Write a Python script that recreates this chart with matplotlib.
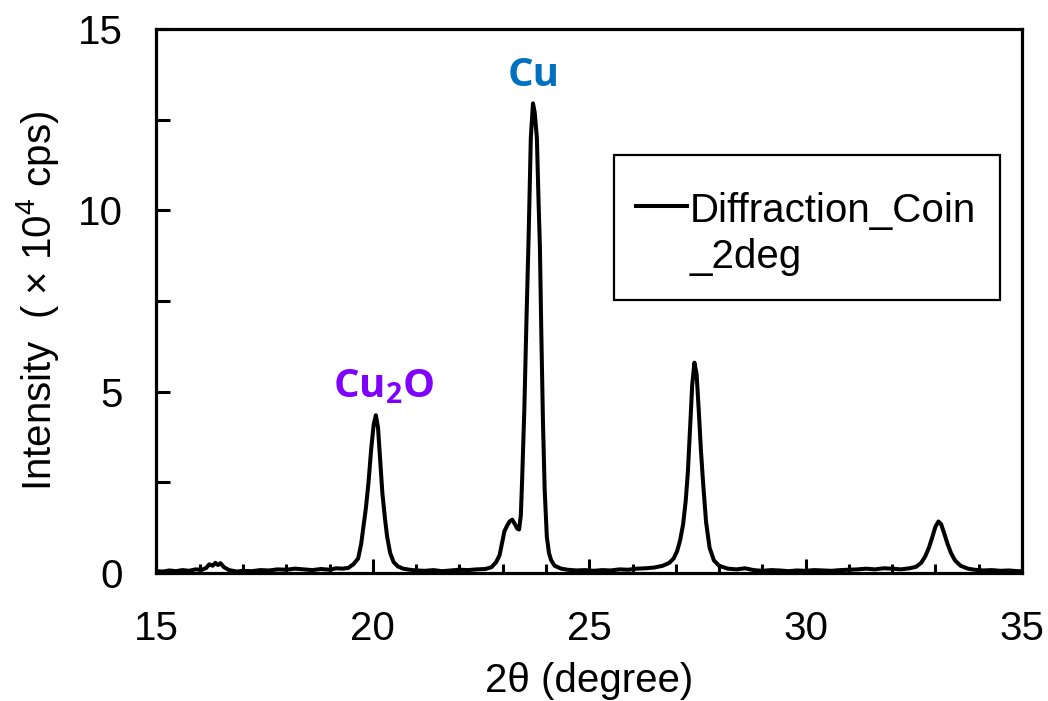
import numpy as np
import matplotlib
matplotlib.use("Agg")
import matplotlib.pyplot as plt
from matplotlib.ticker import MultipleLocator
from matplotlib.patches import Rectangle

# --- Data --------------------------------------------------------------------
two_theta = [
    15.0, 15.15, 15.3, 15.45, 15.6, 15.75, 15.9, 16.05, 16.15, 16.22, 16.3, 16.36,
    16.42, 16.48, 16.56, 16.68, 16.85, 17.0, 17.2, 17.4, 17.6, 17.8, 18.0, 18.2,
    18.4, 18.6, 18.8, 19.0, 19.15, 19.3, 19.43, 19.55, 19.66, 19.73, 19.78, 19.84,
    19.9, 19.96, 20.02, 20.07, 20.12, 20.17, 20.22, 20.28, 20.33, 20.4, 20.48,
    20.58, 20.7, 20.85, 21.0, 21.2, 21.4, 21.6, 21.8, 22.0, 22.2, 22.4, 22.6,
    22.74, 22.85, 22.93, 22.98, 23.04, 23.1, 23.16, 23.22, 23.28, 23.34, 23.38,
    23.42, 23.45, 23.5, 23.55, 23.6, 23.65, 23.7, 23.74, 23.79, 23.83, 23.86,
    23.89, 23.93, 23.97, 24.02, 24.07, 24.12, 24.2, 24.35, 24.5, 24.7, 24.9, 25.1,
    25.3, 25.5, 25.7, 25.9, 26.1, 26.3, 26.5, 26.7, 26.85, 26.95, 27.03, 27.1,
    27.17, 27.23, 27.28, 27.33, 27.38, 27.43, 27.48, 27.53, 27.58, 27.63, 27.7,
    27.78, 27.88, 28.0, 28.2, 28.4, 28.6, 28.8, 29.0, 29.2, 29.4, 29.6, 29.8,
    30.0, 30.2, 30.4, 30.6, 30.8, 31.0, 31.2, 31.4, 31.6, 31.8, 32.0, 32.2, 32.4,
    32.55, 32.67, 32.76, 32.85, 32.93, 33.0, 33.07, 33.13, 33.2, 33.28, 33.36,
    33.45, 33.58, 33.75, 33.9, 34.1, 34.3, 34.5, 34.7, 34.9, 35.0,
]
intensity = [
    0.05, 0.04, 0.07, 0.05, 0.08, 0.06, 0.1, 0.09, 0.14, 0.24, 0.2, 0.28,
    0.22, 0.27, 0.16, 0.08, 0.04, 0.06, 0.05, 0.08, 0.07, 0.1, 0.09, 0.12,
    0.1, 0.08, 0.11, 0.09, 0.13, 0.12, 0.14, 0.24, 0.4, 0.8, 1.25, 1.8,
    2.5, 3.4, 4.1, 4.35, 4.0, 3.1, 2.2, 1.5, 1.0, 0.55, 0.3,
    0.18, 0.12, 0.09, 0.07, 0.06, 0.08, 0.05, 0.07, 0.09, 0.08, 0.1, 0.11,
    0.16, 0.3, 0.5, 0.8, 1.15, 1.3, 1.42, 1.47, 1.35, 1.22, 1.2,
    1.6, 2.6, 4.5, 7.0, 9.3, 12.0, 12.95, 12.7, 12.0, 10.2, 9.0,
    6.8, 4.2, 2.3, 1.0, 0.55, 0.35, 0.2, 0.12, 0.09, 0.07, 0.08, 0.06,
    0.08, 0.07, 0.1, 0.09, 0.12, 0.13, 0.15, 0.2, 0.28, 0.4, 0.6, 0.9,
    1.35, 2.0, 2.8, 4.0, 5.2, 5.8, 5.5, 4.5, 3.4, 2.5, 1.4,
    0.7, 0.35, 0.2, 0.12, 0.1, 0.13, 0.08, 0.06, 0.08, 0.07, 0.05, 0.07,
    0.06, 0.08, 0.07, 0.06, 0.08, 0.09, 0.1, 0.12, 0.1, 0.13, 0.12, 0.1, 0.13,
    0.17, 0.28, 0.45, 0.7, 1.0, 1.28, 1.42, 1.35, 1.1, 0.8, 0.55,
    0.35, 0.2, 0.12, 0.09, 0.07, 0.08, 0.06, 0.07, 0.05, 0.05,
]
series_name = ["Diffraction_Coin", "_2deg"]
peak_labels = [r"Cu", r"Cu$_\mathbf{2}$O"]
peak_x = [23.72, 20.25]
peak_y = [13.43, 4.85]
peak_colors = ["#0070C0", "#7F00FF"]

# --- Style -------------------------------------------------------------------
plt.rcParams["font.family"] = ["Liberation Sans", "DejaVu Sans"]
plt.rcParams["mathtext.fontset"] = "custom"
plt.rcParams["mathtext.rm"] = "Liberation Sans"
plt.rcParams["mathtext.bf"] = "Open Sans:bold"

fig = plt.figure(figsize=(10.48, 7.01), dpi=100)
ax = fig.add_axes([0.1493, 0.1826, 0.9752 - 0.1493, 0.9586 - 0.1826])

ax.plot(two_theta, intensity, color="black", linewidth=2.9)

for lab, x, y, c in zip(peak_labels, peak_x, peak_y, peak_colors):
    ax.text(x, y, lab, color=c, fontsize=29, fontweight="bold",
            family="Open Sans", ha="center", va="baseline")

ax.set_xlim(15, 35)
ax.set_ylim(0, 15)
ax.xaxis.set_major_locator(MultipleLocator(5))
ax.xaxis.set_minor_locator(MultipleLocator(1))
ax.yaxis.set_major_locator(MultipleLocator(5))
ax.yaxis.set_minor_locator(MultipleLocator(2.5))
ax.tick_params(which="both", direction="in", width=2.2, labelsize=29)
ax.tick_params(axis="x", which="major", length=10, pad=27)
ax.tick_params(axis="x", which="minor", length=6.5)
ax.tick_params(axis="y", which="major", length=10, pad=24)
ax.tick_params(axis="y", which="minor", length=10)
for s in ax.spines.values():
    s.set_linewidth(2.3)

ax.set_xlabel("2θ (degree)", fontsize=29, labelpad=10)
ax.set_ylabel(r"Intensity  ( × 10$^4$ cps)", fontsize=29, labelpad=12)

# --- Legend box (drawn by hand: handle sits on the first label line) --------
tr = ax.transAxes
ax.add_patch(Rectangle((0.5286, 0.5018), 0.9746 - 0.5286, 0.7684 - 0.5018,
                       transform=tr, facecolor="white", edgecolor="black",
                       linewidth=1.6, zorder=5))
ax.plot([0.5546, 0.6124], [0.6746, 0.6746], color="black", linewidth=2.9,
        transform=tr, zorder=6)
ax.text(0.6165, 0.6452, series_name[0], fontsize=29, transform=tr,
        va="baseline", ha="left", zorder=6)
ax.text(0.6165, 0.5607, series_name[1], fontsize=29, transform=tr,
        va="baseline", ha="left", zorder=6)

fig.savefig("out.png", dpi=100)
